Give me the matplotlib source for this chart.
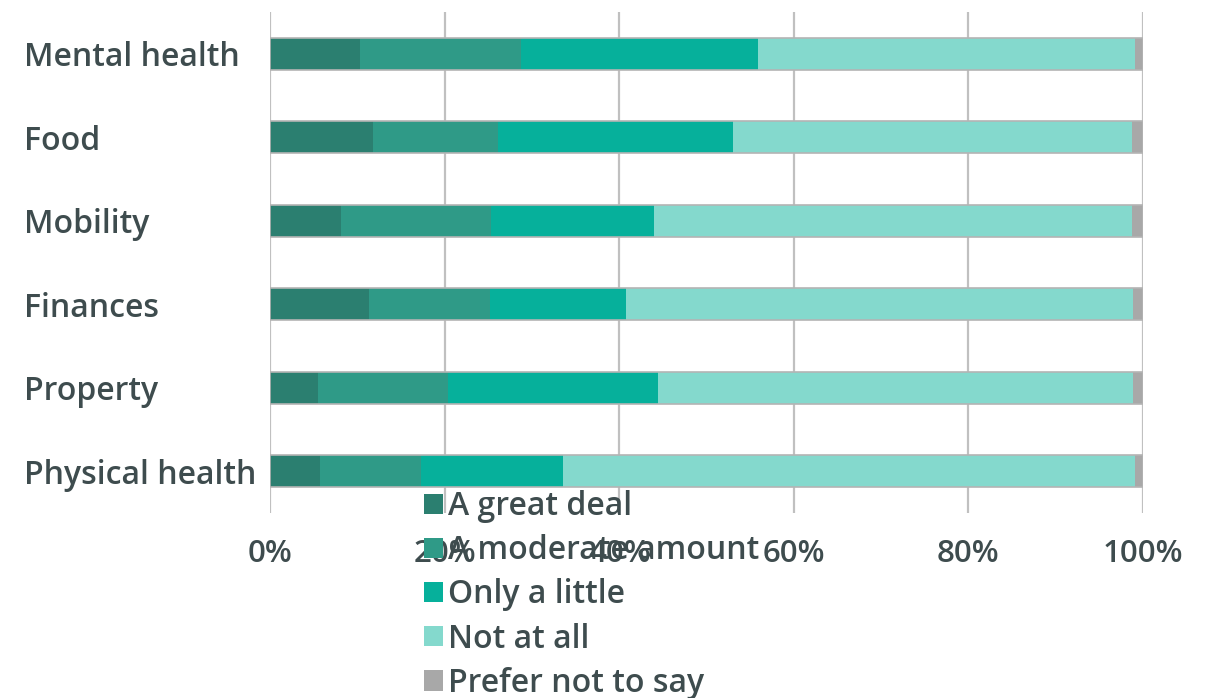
import matplotlib
matplotlib.use("Agg")
import matplotlib.pyplot as plt
import numpy as np

plt.rcParams['font.family'] = ['Open Sans', 'DejaVu Sans']

categories = ["Mental health", "Food", "Mobility", "Finances", "Property", "Physical health"]
series_names = ["A great deal", "A moderate amount", "Only a little", "Not at all", "Prefer not to say"]
great_deal = [10.3, 11.8, 8.1, 11.3, 5.5, 5.7]
moderate = [18.4, 14.3, 17.2, 13.9, 14.9, 11.6]
only_little = [27.2, 26.9, 18.7, 15.6, 24.1, 16.3]
not_at_all = [43.2, 45.7, 54.7, 58.1, 54.4, 65.5]
prefer_not = [0.9, 1.3, 1.3, 1.1, 1.1, 0.9]
xtick_labels = ["0%", "20%", "40%", "60%", "80%", "100%"]

colors = ["#2b7f70", "#2f9a87", "#06b09b", "#84d9cd", "#a8a8a8"]
text_color = "#3e4c4e"

fig = plt.figure(figsize=(12.12, 6.98), dpi=100)
ax = fig.add_axes([270 / 1212, 1 - 513 / 698, 873 / 1212, 501 / 698])

y = np.arange(len(categories))[::-1]
series = [great_deal, moderate, only_little, not_at_all, prefer_not]
left = np.zeros(len(categories))
handles = []
for name, vals, col in zip(series_names, series, colors):
    vals = np.array(vals)
    h = ax.barh(y, vals, left=left, height=0.385, color=col, edgecolor='none', zorder=3, label=name)
    handles.append(h)
    left += vals
# thin outline around each full bar
ax.barh(y, left, height=0.385, facecolor='none', edgecolor='#b4b4b4', linewidth=1.2, zorder=4)

ax.set_xlim(0, 100)
ax.set_ylim(-0.5, len(categories) - 0.5)
ax.set_xticks(np.arange(0, 101, 20))
ax.set_xticklabels(xtick_labels)
ax.set_yticks(y)
ax.set_yticklabels(categories)
for lbl in ax.get_yticklabels():
    lbl.set_horizontalalignment('left')
    lbl.set_fontweight('semibold')
for lbl in ax.get_xticklabels():
    lbl.set_fontweight('semibold')
ax.tick_params(axis='y', length=0, pad=177, labelsize=23, labelcolor=text_color)
ax.tick_params(axis='x', length=0, pad=19, labelsize=22.5, labelcolor=text_color)

ax.grid(axis='x', color='#c0c0c0', linewidth=1.6, zorder=1)
for s in ax.spines.values():
    s.set_visible(False)

leg = fig.legend(handles=handles, labels=series_names, loc='upper left',
                 bbox_to_anchor=(424 / 1212, 1 - 490 / 698), frameon=False,
                 borderpad=0, borderaxespad=0, handlelength=0.6, handleheight=0.6,
                 handletextpad=0.15, labelspacing=0.35,
                 prop={'size': 23, 'weight': 'semibold'})
for t in leg.get_texts():
    t.set_color(text_color)
leg.set_zorder(10)

fig.savefig("out.png", dpi=100)
